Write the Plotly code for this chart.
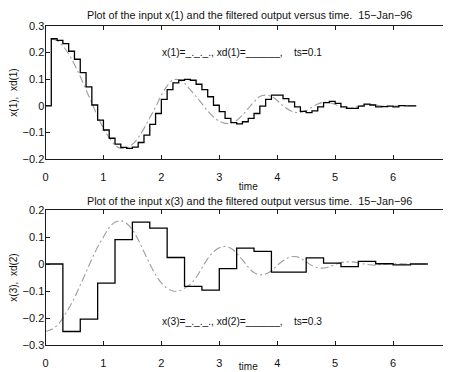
import plotly.graph_objects as go

# ---------------- data ----------------
ts_top = 0.1
top_step_vals = [0, 0.252, 0.246, 0.234, 0.205, 0.175, 0.125, 0.071, 0.003, -0.054,
                 -0.091, -0.122, -0.144, -0.156, -0.160, -0.155, -0.138, -0.110, -0.070, -0.029,
                 0.024, 0.061, 0.086, 0.096, 0.099, 0.096, 0.081, 0.061, 0.034, 0.002,
                 -0.022, -0.047, -0.063, -0.068, -0.060, -0.047, -0.029, -0.001, 0.024, 0.040,
                 0.040, 0.027, 0.015, -0.004, -0.021, -0.026, -0.019, -0.004, 0.012, 0.017,
                 0.009, -0.004, -0.010, -0.010, -0.001, 0.006, 0.003, -0.004, -0.003, -0.001,
                 -0.004, 0.001, 0.0, 0.0]
top_cont_t = [0.1, 0.2, 0.3, 0.4, 0.5, 0.6, 0.7, 0.8, 0.9, 1.0,
              1.1, 1.2, 1.3, 1.4, 1.5, 1.6, 1.7, 1.8, 1.9, 2.0,
              2.1, 2.2, 2.3, 2.4, 2.5, 2.6, 2.7, 2.8, 2.9, 3.0,
              3.1, 3.2, 3.3, 3.4, 3.5, 3.6, 3.7, 3.8, 3.9, 4.0,
              4.1, 4.2, 4.3, 4.4, 4.5, 4.6, 4.7, 4.8, 4.9, 5.0,
              5.1, 5.2, 5.3, 5.4, 5.5, 5.6, 5.7, 5.8, 5.9, 6.0,
              6.1, 6.2, 6.3, 6.4]
top_cont_vals = [0.250, 0.245, 0.225, 0.195, 0.155, 0.110, 0.060, 0.010, -0.040, -0.085,
                 -0.120, -0.148, -0.160, -0.158, -0.145, -0.120, -0.085, -0.045, -0.005, 0.040,
                 0.075, 0.097, 0.098, 0.085, 0.060, 0.035, 0.008, -0.020, -0.042, -0.058,
                 -0.066, -0.065, -0.055, -0.035, -0.010, 0.015, 0.035, 0.040, 0.035, 0.020,
                 0.000, -0.015, -0.024, -0.025, -0.018, -0.005, 0.007, 0.013, 0.012, 0.005,
                 -0.004, -0.009, -0.008, -0.003, 0.003, 0.005, 0.003, -0.001, -0.003, -0.002,
                 0.000, 0.001, 0.000, 0.000]

ts_bot = 0.3
bot_step_vals = [0, -0.250, -0.204, -0.071, 0.090, 0.155, 0.133, 0.024, -0.083, -0.097,
                 -0.017, 0.059, 0.047, -0.030, -0.030, 0.023, 0.003, -0.010, 0.010, 0.001,
                 -0.003, 0.0]
bot_cont_t = [0.0, 0.1, 0.2, 0.3, 0.4, 0.5, 0.6, 0.7, 0.8, 0.9,
              1.0, 1.1, 1.2, 1.3, 1.4, 1.5, 1.6, 1.7, 1.8, 1.9,
              2.0, 2.1, 2.2, 2.3, 2.4, 2.5, 2.6, 2.7, 2.8, 2.9,
              3.0, 3.1, 3.2, 3.3, 3.4, 3.5, 3.6, 3.7, 3.8, 3.9,
              4.0, 4.1, 4.2, 4.3, 4.4, 4.5, 4.6, 4.7, 4.8, 4.9,
              5.0, 5.1, 5.2, 5.3, 5.4, 5.5, 5.6, 5.7, 5.8, 5.9,
              6.0, 6.1, 6.2, 6.3]
bot_cont_vals = [-0.250, -0.243, -0.228, -0.200, -0.165, -0.125, -0.078, -0.030, 0.018, 0.063,
                 0.100, 0.135, 0.155, 0.160, 0.150, 0.127, 0.090, 0.045, 0.000, -0.040,
                 -0.070, -0.090, -0.100, -0.100, -0.090, -0.075, -0.050, -0.015, 0.020, 0.045,
                 0.060, 0.065, 0.058, 0.040, 0.015, -0.012, -0.032, -0.040, -0.037, -0.025,
                 -0.005, 0.012, 0.024, 0.028, 0.022, 0.008, -0.006, -0.014, -0.015, -0.010,
                 -0.002, 0.005, 0.008, 0.008, 0.004, 0.000, -0.003, -0.004, -0.002, 0.000,
                 0.001, 0.001, 0.000, 0.000]

top_title = "Plot of the input x(1) and the filtered output versus time.  15\u2212Jan\u221296"
bot_title = "Plot of the input x(3) and the filtered output versus time.  15\u2212Jan\u221296"
top_note = "x(1)=_._._., xd(1)=______,    ts=0.1"
bot_note = "x(3)=_._._., xd(2)=______,    ts=0.3"
top_ylabel = "x(1),  xd(1)"
bot_ylabel = "x(3),  xd(2)"
xlabel = "time"
x_ticks = [0, 1, 2, 3, 4, 5, 6, 7]
top_yticks = [-0.2, -0.1, 0, 0.1, 0.2, 0.3]
top_yticktext = ["\u22120.2", "\u22120.1", "0", "0.1", "0.2", "0.3"]
bot_yticks = [-0.3, -0.2, -0.1, 0, 0.1, 0.2]
bot_yticktext = ["\u22120.3", "\u22120.2", "\u22120.1", "0", "0.1", "0.2"]

# step series: sample times plus the final hold end
top_step_t = [round(i * ts_top, 2) for i in range(len(top_step_vals) + 1)]
top_step_y = top_step_vals + [top_step_vals[-1]]
bot_step_t = [round(i * ts_bot, 2) for i in range(len(bot_step_vals) + 1)]
bot_step_y = bot_step_vals + [bot_step_vals[-1]]

# page has an 8px body margin: size the figure to the visible window area
OFF = 8
W, H = 451 - OFF, 372 - OFF
FONT = "Liberation Sans, Arial, Helvetica, sans-serif"
AX = "#1a1a1a"
DASH_COL = "#9c9c9c"
TXT = "#111111"

def fx(page_x):
    return (page_x - OFF) / W

def fy(page_y):
    return (H - (page_y - OFF)) / H

fig = go.Figure()
fig.add_trace(go.Scatter(x=top_cont_t, y=top_cont_vals, mode="lines", line_shape="spline",
                         line=dict(color=DASH_COL, width=1.1, dash="8px,3px,2px,3px"),
                         xaxis="x", yaxis="y", showlegend=False))
fig.add_trace(go.Scatter(x=top_step_t, y=top_step_y, mode="lines", line_shape="hv",
                         line=dict(color="#000000", width=1.3),
                         xaxis="x", yaxis="y", showlegend=False))
fig.add_trace(go.Scatter(x=bot_cont_t, y=bot_cont_vals, mode="lines", line_shape="spline",
                         line=dict(color=DASH_COL, width=1.1, dash="8px,3px,2px,3px"),
                         xaxis="x2", yaxis="y2", showlegend=False))
fig.add_trace(go.Scatter(x=bot_step_t, y=bot_step_y, mode="lines", line_shape="hv",
                         line=dict(color="#000000", width=1.3),
                         xaxis="x2", yaxis="y2", showlegend=False))

xdom = [fx(45.5), 1.0]
common_x = dict(range=[0, 7], tickvals=x_ticks, ticks="inside", ticklen=4, tickcolor=AX,
                showline=True, linecolor=AX, linewidth=1, mirror="ticks", showgrid=False,
                zeroline=False, tickfont=dict(size=11, color=TXT), domain=xdom,
                ticklabelstandoff=8, ticklabeloverflow="allow",
                title=dict(text=xlabel, font=dict(size=10, color=TXT), standoff=0))
common_y = dict(ticks="inside", ticklen=4, tickcolor=AX, showline=True, linecolor=AX,
                linewidth=1, mirror="ticks", showgrid=False, zeroline=False,
                tickfont=dict(size=11, color=TXT), ticklabelstandoff=-2)
ytitle_font = dict(size=10, color=TXT)

fig.update_layout(
    width=W, height=H, margin=dict(l=0, r=0, t=0, b=0, autoexpand=False),
    paper_bgcolor="white", plot_bgcolor="white",
    font=dict(family=FONT, color=TXT),
    xaxis=dict(common_x, anchor="y"),
    yaxis=dict(common_y, range=[-0.2, 0.3], tickvals=top_yticks, ticktext=top_yticktext,
               domain=[fy(159), fy(26)], anchor="x",
               title=dict(text=top_ylabel, font=ytitle_font, standoff=11)),
    xaxis2=dict(common_x, anchor="y2"),
    yaxis2=dict(common_y, range=[-0.3, 0.2], tickvals=bot_yticks, ticktext=bot_yticktext,
                domain=[fy(345), fy(210)], anchor="x2",
                title=dict(text=bot_ylabel, font=ytitle_font, standoff=11)),
)

fig.add_annotation(text=top_title, x=fx(249), y=fy(15), xref="paper", yref="paper",
                   showarrow=False, font=dict(size=10.8, color=TXT), xanchor="center", yanchor="middle")
fig.add_annotation(text=bot_title, x=fx(249), y=fy(201), xref="paper", yref="paper",
                   showarrow=False, font=dict(size=10.8, color=TXT), xanchor="center", yanchor="middle")
fig.add_annotation(text=top_note, x=1.97, y=0.2, xref="x", yref="y", showarrow=False,
                   font=dict(size=10.2, color=TXT), xanchor="left", yanchor="middle")
fig.add_annotation(text=bot_note, x=1.97, y=-0.213, xref="x2", yref="y2", showarrow=False,
                   font=dict(size=10.2, color=TXT), xanchor="left", yanchor="middle")

fig.write_html("out.html")
